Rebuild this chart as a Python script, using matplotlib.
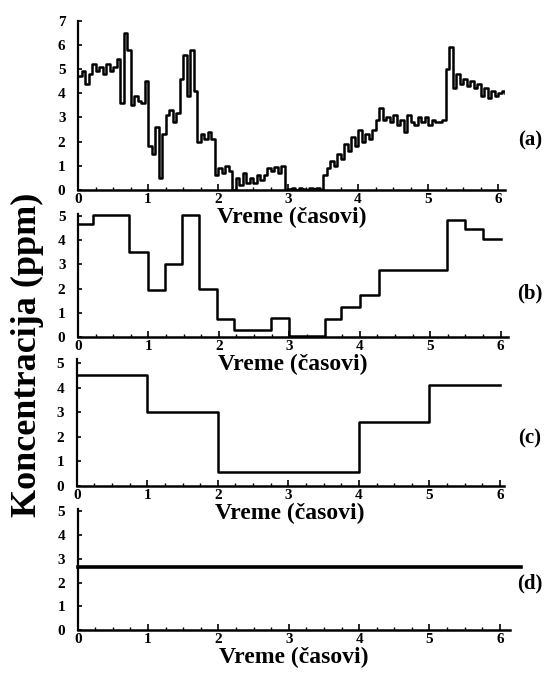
import matplotlib
matplotlib.use("Agg")
import matplotlib.pyplot as plt
from matplotlib.ticker import MultipleLocator

# ---------------- data ----------------
# (a) raw concentration trace, sampled every 0.05 h
a_time = [0.00, 0.05, 0.10, 0.15, 0.20, 0.25, 0.30, 0.35, 0.40, 0.45,
          0.50, 0.55, 0.60, 0.65, 0.70, 0.75, 0.80, 0.85, 0.90, 0.95,
          1.00, 1.05, 1.10, 1.15, 1.20, 1.25, 1.30, 1.35, 1.40, 1.45,
          1.50, 1.55, 1.60, 1.65, 1.70, 1.75, 1.80, 1.85, 1.90, 1.95,
          2.00, 2.05, 2.10, 2.15, 2.20, 2.25, 2.30, 2.35, 2.40, 2.45,
          2.50, 2.55, 2.60, 2.65, 2.70, 2.75, 2.80, 2.85, 2.90, 2.95,
          3.00, 3.05, 3.10, 3.15, 3.20, 3.25, 3.30, 3.35, 3.40, 3.45,
          3.50, 3.55, 3.60, 3.65, 3.70, 3.75, 3.80, 3.85, 3.90, 3.95,
          4.00, 4.05, 4.10, 4.15, 4.20, 4.25, 4.30, 4.35, 4.40, 4.45,
          4.50, 4.55, 4.60, 4.65, 4.70, 4.75, 4.80, 4.85, 4.90, 4.95,
          5.00, 5.05, 5.10, 5.15, 5.20, 5.25, 5.30, 5.35, 5.40, 5.45,
          5.50, 5.55, 5.60, 5.65, 5.70, 5.75, 5.80, 5.85, 5.90, 5.95,
          6.00, 6.05, 6.10]
a_conc = [4.7, 4.9, 4.4, 4.8, 5.2, 4.9, 5.1, 4.8, 5.2, 4.9,
          5.1, 5.4, 3.6, 6.5, 5.8, 3.5, 3.9, 3.7, 3.6, 4.5,
          1.8, 1.5, 2.6, 0.5, 2.3, 3.1, 3.3, 2.8, 3.2, 4.6,
          5.6, 3.9, 5.8, 4.1, 2.0, 2.3, 2.1, 2.4, 2.1, 0.6,
          0.9, 0.7, 1.0, 0.8, 0.0, 0.5, 0.2, 0.7, 0.3, 0.5,
          0.3, 0.6, 0.4, 0.6, 0.9, 0.8, 0.95, 0.7, 1.0, 0.0,
          0.05, 0.1, 0.0, 0.1, 0.05, 0.0, 0.1, 0.05, 0.1, 0.0,
          0.6, 0.9, 1.2, 1.0, 1.5, 1.3, 1.9, 1.6, 2.2, 1.8,
          2.5, 2.0, 2.3, 2.1, 2.5, 2.9, 3.4, 2.9, 3.0, 2.8,
          3.1, 2.7, 2.9, 2.4, 3.1, 2.8, 2.7, 3.0, 2.8, 3.0,
          2.7, 2.9, 2.8, 2.8, 2.9, 5.0, 5.9, 4.2, 4.8, 4.4,
          4.6, 4.3, 4.5, 4.2, 4.4, 3.9, 4.2, 3.8, 4.1, 3.9,
          4.0, 4.1, 4.0]

# (b) short averaging intervals
b_edges = [0.0, 0.22, 0.72, 1.0, 1.24, 1.47, 1.72, 1.97, 2.22, 2.74,
           3.0, 3.5, 3.74, 4.0, 4.27, 5.24, 5.5, 5.75, 6.0]
b_conc = [4.65, 5.05, 3.5, 1.95, 3.0, 5.05, 2.0, 0.75, 0.3, 0.8,
          0.05, 0.75, 1.25, 1.75, 2.75, 4.85, 4.45, 4.05]

# (c) hourly averages
c_edges = [0.0, 1.0, 2.0, 4.0, 5.0, 6.0]
c_conc = [4.5, 3.0, 0.55, 2.6, 4.1]

# (d) overall average
d_edges = [0.0, 6.3]
d_conc = [2.65]

panel_labels = ["(a)", "(b)", "(c)", "(d)"]
x_label = "Vreme (časovi)"
y_label = "Koncentracija (ppm)"

# ---------------- figure ----------------
W, H = 551, 677
fig = plt.figure(figsize=(W / 100, H / 100), dpi=100)
serif = ["Liberation Serif", "DejaVu Serif"]


def px_axes(x0, y_bottom, width, height):
    return fig.add_axes([x0 / W, (H - y_bottom) / H, width / W, height / H])


def style(ax, xmax, ymax, yticks):
    ax.set_xlim(0, xmax)
    ax.set_ylim(0, ymax)
    for s in ("top", "right"):
        ax.spines[s].set_visible(False)
    ax.spines["left"].set_linewidth(1.6)
    ax.spines["bottom"].set_linewidth(1.8)
    ax.set_xticks(range(0, 7))
    ax.xaxis.set_minor_locator(MultipleLocator(0.25))
    ax.set_yticks(yticks)
    ax.tick_params(axis="x", which="major", direction="in", length=4, width=1.2, pad=2)
    ax.tick_params(axis="x", which="minor", direction="in", length=2.5, width=1.0)
    ax.tick_params(axis="y", which="major", direction="in", length=3, width=1.2, pad=9)
    for lab in ax.get_xticklabels() + ax.get_yticklabels():
        lab.set_fontfamily(serif)
        lab.set_fontweight("bold")
        lab.set_fontsize(11)
    ax.set_xlabel(x_label, fontfamily=serif, fontweight="bold", fontsize=17, labelpad=1)
    ax.patch.set_alpha(0)


# (a)
ax_a = px_axes(78, 190, 427, 169.3)
style(ax_a, 6.1, 7, range(0, 8))
ax_a.step(a_time, a_conc, where="post", color="black", lw=1.8)

# (b)
ax_b = px_axes(78, 337, 429.7, 123.4)
style(ax_b, 6.1, 5.1, range(0, 6))
ax_b.step(b_edges, b_conc + [b_conc[-1]], where="post", color="black", lw=1.8)

# (c)
ax_c = px_axes(76.7, 486, 426.8, 126.7)
style(ax_c, 6.05, 5.15, range(0, 6))
ax_c.step(c_edges, c_conc + [c_conc[-1]], where="post", color="black", lw=1.8)

# (d)
ax_d = px_axes(77.7, 630, 432, 120.9)
style(ax_d, 6.14, 5.1, range(0, 6))
ax_d.step(d_edges, d_conc + [d_conc[-1]], where="post", color="black", lw=2.6, clip_on=False)

# panel letters
for ax, lab, ypix in zip([ax_a, ax_b, ax_c, ax_d], panel_labels, [140, 293, 438, 583]):
    fig.text(530 / W, (H - ypix) / H, lab, ha="center", va="center",
             fontfamily=serif, fontweight="bold", fontsize=15)

fig.text(27 / W, (H - 355) / H, y_label, rotation=90, ha="center", va="center",
         fontfamily=serif, fontweight="bold", fontsize=26)

fig.savefig("out.png", dpi=100)
